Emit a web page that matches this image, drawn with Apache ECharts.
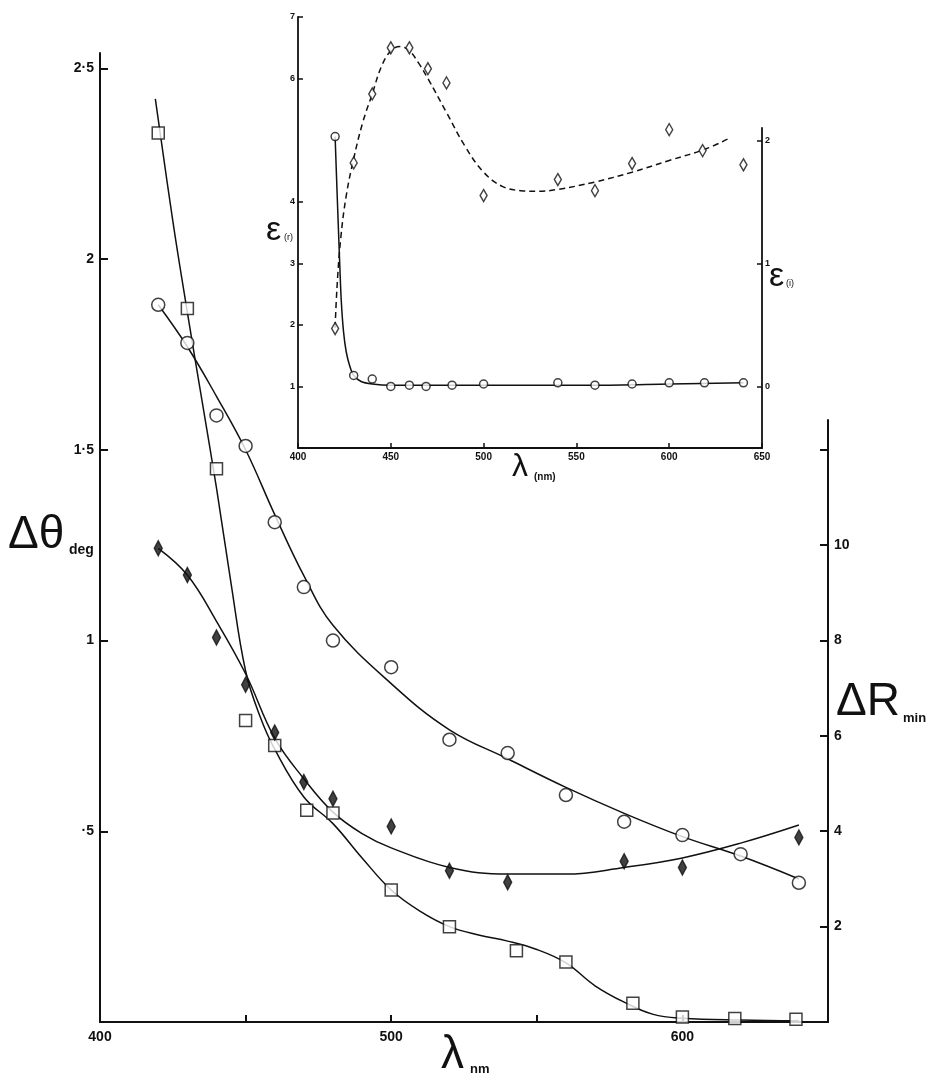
<!DOCTYPE html>
<html><head><meta charset="utf-8">
<script src="https://cdn.jsdelivr.net/npm/echarts@6/dist/echarts.min.js"></script>
<style>html,body{margin:0;padding:0;background:#fff}#c{width:932px;height:1079px}</style>
</head><body><div id="c"></div>
<script>
// ---------- main chart data ----------
const circleWavelengths = [420,430,440,450,460,470,480,500,520,540,560,580,600,620,640];
const circleDeltaTheta = [1.88,1.78,1.59,1.51,1.31,1.14,1.0,0.93,0.74,0.705,0.595,0.525,0.49,0.44,0.365];
const squareWavelengths = [420,430,440,450,460,471,480,500,520,543,560,583,600,618,639];
const squareDeltaTheta = [2.33,1.87,1.45,0.79,0.725,0.555,0.548,0.346,0.25,0.187,0.157,0.049,0.013,0.009,0.007];
const diamondWavelengths = [420,430,440,450,460,470,480,500,520,540,580,600,640];
const diamondDeltaR = [9.93,9.37,8.06,7.07,6.07,5.03,4.68,4.1,3.17,2.93,3.37,3.24,3.87];

const circleCurveX = [420,430,440,450,460,470,480,500,520,540,560,580,600,620,640];
const circleCurveY = [1.88,1.77,1.64,1.5,1.33,1.17,1.04,0.887,0.766,0.69,0.615,0.547,0.486,0.435,0.375];
const squareCurveX = [419,425,430,435,440,445,450,455,460,470,480,490,500,510,520,530,540,550,560,570,580,590,600,620,640];
const squareCurveY = [2.42,2.1,1.86,1.63,1.4,1.15,0.92,0.8,0.715,0.59,0.52,0.43,0.346,0.29,0.25,0.228,0.212,0.19,0.155,0.095,0.052,0.02,0.01,0.005,0.003];
const diamondCurveX = [420,430,440,450,460,470,480,490,500,520,540,560,580,600,620,640];
const diamondCurveY = [9.93,9.37,8.4,7.3,5.95,5.1,4.4,3.95,3.65,3.24,3.1,3.1,3.24,3.44,3.75,4.13];

const mainXLabels = [400,500,600];
const mainXTicks = [450,500,550,600];
const leftTicks = [0.5,1,1.5,2,2.5];
const rightTicks = [2,4,6,8,10,12];
const rightLabels = [2,4,6,8,10];

// ---------- inset data ----------
const insetDiamondWl = [420,430,440,450,460,470,480,500,540,560,580,600,618,640];
const insetEpsR = [1.94,4.63,5.75,6.5,6.5,6.16,5.93,4.1,4.36,4.18,4.62,5.17,4.83,4.6];
const insetCircleWl = [420,430,440,450,460,469,483,500,540,560,580,600,619,640];
const insetEpsI = [2.03,0.09,0.06,0.0,0.01,0.0,0.01,0.02,0.03,0.01,0.02,0.03,0.03,0.03];
const epsRCurveX = [420,421,423,426,430,435,440,445,450,455,460,465,470,480,490,500,510,520,530,540,560,580,600,620,633];
const epsRCurveY = [1.95,2.6,3.4,4.1,4.7,5.3,5.75,6.2,6.45,6.52,6.45,6.25,6.0,5.45,4.9,4.48,4.25,4.18,4.17,4.2,4.32,4.48,4.67,4.86,5.04];
const epsICurveX = [420,421,422.4,423.3,424.5,426,428,430,434,440,450,500,560,600,640];
const epsICurveY = [2.03,1.6,1.03,0.7,0.45,0.28,0.16,0.09,0.04,0.02,0.01,0.01,0.01,0.02,0.03];
const insetXTicks = [400,450,500,550,600,650];
const insetLeftLabels = [1,2,3,4,6,7];
const insetRightLabels = [0,1,2];

const zip = (a,b) => a.map((v,i)=>[v,b[i]]);
const F = 'Liberation Sans, Arial, sans-serif';
const black = '#111';
const fmtDeg = v => String(v).replace('0.', '·').replace('.', '·');

function lineSeries(x, y, xi, yi, dashed, smooth){
  return {type:'line', xAxisIndex:xi, yAxisIndex:yi, data:zip(x,y), smooth: smooth || 0.4, showSymbol:false, symbol:'none',
    lineStyle:{color:black,width:1.5,type: dashed ? [6,4] : 'solid'}, z:2, silent:true};
}
function markers(x, y, xi, yi, symbol, size, filled){
  return {type:'scatter', xAxisIndex:xi, yAxisIndex:yi, data:zip(x,y), symbol, symbolSize:size,
    itemStyle:{color: filled ? black : '#fff', borderColor:black, borderWidth:1.5}, z:5, silent:true};
}

const chart = echarts.init(document.getElementById('c'), null, {renderer:'canvas'});
chart.setOption({
  backgroundColor:'#fff',
  animation:false,
  grid:[
    {left:100, right:104, top:53, bottom:57},
    {left:100, right:104, top:420, bottom:57},
    {left:298, right:170, top:17, bottom:631},
    {left:298, right:170, top:128, bottom:631}
  ],
  xAxis:[
    {gridIndex:0, type:'value', min:400, max:650, axisLine:{onZero:false, lineStyle:{color:black,width:2}},
      axisTick:{inside:true, length:7, lineStyle:{color:black,width:2}, customValues:mainXTicks},
      axisLabel:{customValues:mainXLabels, color:black, fontFamily:F, fontWeight:'bold', fontSize:14, margin:8},
      splitLine:{show:false}},
    {gridIndex:1, type:'value', min:400, max:650, show:false},
    {gridIndex:2, type:'value', min:400, max:650, axisLine:{onZero:false, lineStyle:{color:black,width:1.8}},
      axisTick:{inside:true, length:5, lineStyle:{color:black,width:1.5}, customValues:insetXTicks},
      axisLabel:{customValues:insetXTicks, color:black, fontFamily:F, fontWeight:'bold', fontSize:10, margin:4},
      splitLine:{show:false}},
    {gridIndex:3, type:'value', min:400, max:650, show:false}
  ],
  yAxis:[
    {gridIndex:0, type:'value', min:0, max:2.54, axisLine:{show:true, onZero:false, lineStyle:{color:black,width:2}},
      axisTick:{show:true, inside:true, length:8, lineStyle:{color:black,width:2}, customValues:leftTicks},
      axisLabel:{customValues:leftTicks, formatter:fmtDeg, color:black, fontFamily:F, fontWeight:'bold', fontSize:14, margin:6},
      splitLine:{show:false}},
    {gridIndex:1, type:'value', position:'right', min:0, max:12.62, axisLine:{show:true, onZero:false, lineStyle:{color:black,width:2}},
      axisTick:{show:true, inside:true, length:8, lineStyle:{color:black,width:2}, customValues:rightTicks},
      axisLabel:{customValues:rightLabels, color:black, fontFamily:F, fontWeight:'bold', fontSize:14, margin:6},
      splitLine:{show:false}},
    {gridIndex:2, type:'value', min:0, max:7, axisLine:{show:true, onZero:false, lineStyle:{color:black,width:1.8}},
      axisTick:{show:true, inside:true, length:5, lineStyle:{color:black,width:1.5}, customValues:insetLeftLabels},
      axisLabel:{customValues:insetLeftLabels, color:black, fontFamily:F, fontWeight:'bold', fontSize:9, margin:3},
      splitLine:{show:false}},
    {gridIndex:3, type:'value', position:'right', min:-0.5, max:2.1, axisLine:{show:true, onZero:false, lineStyle:{color:black,width:1.8}},
      axisTick:{show:true, inside:true, length:5, lineStyle:{color:black,width:1.5}, customValues:insetRightLabels},
      axisLabel:{customValues:insetRightLabels, color:black, fontFamily:F, fontWeight:'bold', fontSize:9, margin:3},
      splitLine:{show:false}}
  ],
  series:[
    lineSeries(circleCurveX, circleCurveY, 0, 0),
    lineSeries(squareCurveX, squareCurveY, 0, 0),
    lineSeries(diamondCurveX, diamondCurveY, 1, 1),
    markers(circleWavelengths, circleDeltaTheta, 0, 0, 'circle', 13, false),
    markers(squareWavelengths, squareDeltaTheta, 0, 0, 'rect', 12, false),
    markers(diamondWavelengths, diamondDeltaR, 1, 1, 'diamond', [8,15], true),
    lineSeries(epsRCurveX, epsRCurveY, 2, 2, true),
    lineSeries(epsICurveX, epsICurveY, 3, 3, false, 0.3),
    markers(insetDiamondWl, insetEpsR, 2, 2, 'diamond', [7,12], false),
    markers(insetCircleWl, insetEpsI, 3, 3, 'circle', 8, false)
  ],
  graphic:[
    {type:'text', left:8, top:512, style:{text:'Δθ', font:'46px '+F, fill:black}},
    {type:'text', left:69, top:543, style:{text:'deg', font:'bold 14px '+F, fill:black}},
    {type:'text', left:836, top:679, style:{text:'ΔR', font:'46px '+F, fill:black}},
    {type:'text', left:903, top:712, style:{text:'min', font:'bold 13px '+F, fill:black}},
    {type:'text', left:441, top:1032, style:{text:'λ', font:'46px '+F, fill:black}},
    {type:'text', left:470, top:1063, style:{text:'nm', font:'bold 13px '+F, fill:black}},
    {type:'text', left:266, top:214, style:{text:'ε', font:'34px '+F, fill:black}},
    {type:'text', left:284, top:233, style:{text:'(r)', font:'9px '+F, fill:black}},
    {type:'text', left:769, top:260, style:{text:'ε', font:'34px '+F, fill:black}},
    {type:'text', left:786, top:279, style:{text:'(i)', font:'9px '+F, fill:black}},
    {type:'text', left:512, top:451, style:{text:'λ', font:'32px '+F, fill:black}},
    {type:'text', left:534, top:472, style:{text:'(nm)', font:'bold 10px '+F, fill:black}}
  ]
});
</script></body></html>
